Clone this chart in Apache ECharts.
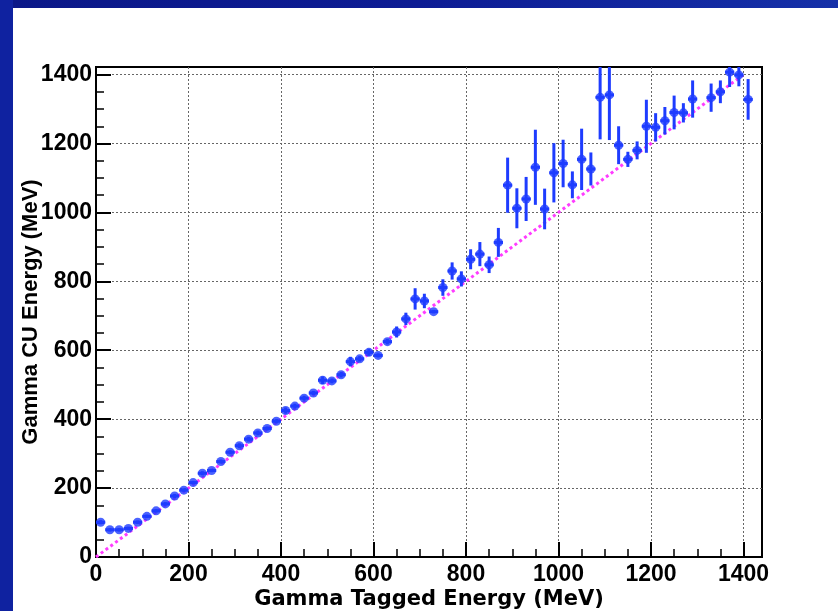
<!DOCTYPE html>
<html>
<head>
<meta charset="utf-8">
<script src="https://cdn.jsdelivr.net/npm/echarts@6/dist/echarts.min.js"></script>
<style>
  html, body { margin: 0; padding: 0; background: #fff; }
  #main { width: 838px; height: 611px; }
</style>
</head>
<body>
<div id="main"></div>
<script>
// bin centres (MeV), 20 MeV bins
var binCenter = [10, 30, 50, 70, 90, 110, 130, 150, 170, 190,
  210, 230, 250, 270, 290, 310, 330, 350, 370, 390,
  410, 430, 450, 470, 490, 510, 530, 550, 570, 590,
  610, 630, 650, 670, 690, 710, 730, 750, 770, 790,
  810, 830, 850, 870, 890, 910, 930, 950, 970, 990,
  1010, 1030, 1050, 1070, 1090, 1110, 1130, 1150, 1170, 1190,
  1210, 1230, 1250, 1270, 1290, 1330, 1350, 1370, 1390, 1410];
// measured CU energy
var cuEnergy = [101, 79, 79, 83, 101, 118, 134, 154, 177, 194,
  216, 243, 251, 277, 304, 323, 342, 360, 373, 394,
  425, 438, 461, 476, 513, 511, 529, 567, 575, 594,
  585, 625, 653, 691, 749, 743, 712, 782, 830, 807,
  864, 879, 848, 913, 1079, 1012, 1039, 1131, 1010, 1115,
  1142, 1080, 1154, 1126, 1334, 1341, 1195, 1154, 1180, 1250,
  1247, 1266, 1290, 1289, 1329, 1333, 1350, 1407, 1399, 1328];
var cuError = [6, 5, 5, 5, 5, 5, 5, 5, 6, 5,
  5, 6, 5, 6, 6, 7, 7, 7, 6, 6,
  9, 7, 7, 6, 11, 7, 8, 14, 8, 10,
  6, 8, 16, 18, 31, 21, 5, 24, 25, 22,
  29, 35, 24, 42, 80, 58, 64, 109, 59, 86,
  69, 39, 89, 48, 122, 131, 55, 22, 26, 77,
  41, 40, 49, 28, 54, 41, 33, 43, 33, 59];
var binHalfWidth = 10;

// y = x reference line
var diagX = [0, 1400];
var diagY = [0, 1400];

var xTickValues = [0, 200, 400, 600, 800, 1000, 1200, 1400];
var yTickValues = [0, 200, 400, 600, 800, 1000, 1200, 1400];

var blue = '#1e3cff';
var labelFont = 'Liberation Sans';

var points = binCenter.map(function (x, i) { return [x, cuEnergy[i], cuError[i]]; });
var diagLine = diagX.map(function (x, i) { return [x, diagY[i]]; });

function renderErr(params, api) {
  var x = api.value(0), y = api.value(1), e = api.value(2);
  var c = api.coord([x, y]);
  var lo = api.coord([x, y - e]);
  var hi = api.coord([x, y + e]);
  var l = api.coord([x - binHalfWidth, y]);
  var r = api.coord([x + binHalfWidth, y]);
  var cs = params.coordSys;
  var top = Math.max(hi[1], cs.y);
  var bot = Math.min(lo[1], cs.y + cs.height);
  return {
    type: 'group',
    children: [
      { type: 'line', shape: { x1: c[0], y1: top, x2: c[0], y2: bot },
        style: { stroke: blue, lineWidth: 3 } },
      { type: 'line', shape: { x1: l[0], y1: c[1], x2: r[0], y2: c[1] },
        style: { stroke: blue, lineWidth: 3 } }
    ]
  };
}

function axisCommon(ticks) {
  return {
    type: 'value',
    min: 0,
    interval: 200,
    axisLine: { show: true, lineStyle: { color: '#000', width: 2 } },
    axisTick: { show: true, inside: true, length: 15, lineStyle: { color: '#000', width: 2 } },
    minorTick: { show: true, splitNumber: 4, length: 8, lineStyle: { color: '#000', width: 1.5 } },
    splitLine: { show: true, showMinLine: false, showMaxLine: false,
      lineStyle: { color: '#666', width: 1, type: [2, 2] } },
    axisLabel: {
      color: '#000', fontFamily: labelFont, fontWeight: 'bold', fontSize: 23,
      showMaxLabel: false,
      formatter: function (v) { return ticks.indexOf(v) >= 0 ? String(v) : ''; }
    },
    nameLocation: 'middle',
    nameMoveOverlap: false,
    nameTextStyle: { color: '#000', fontFamily: labelFont, fontWeight: 'bold', fontSize: 22 }
  };
}

var xAxis = axisCommon(xTickValues);
xAxis.max = 1440;
xAxis.name = 'Gamma Tagged Energy (MeV)';
xAxis.nameGap = 32;
xAxis.nameTextStyle.fontFamily = 'DejaVu Sans';
xAxis.nameTextStyle.fontSize = 21;
xAxis.axisLabel.margin = 6;

var yAxis = axisCommon(yTickValues);
yAxis.max = 1422;
yAxis.name = 'Gamma CU Energy (MeV)';
yAxis.nameGap = 54;
yAxis.axisLabel.margin = 4;

var chart = echarts.init(document.getElementById('main'), null, { renderer: 'canvas' });
chart.setOption({
  animation: false,
  backgroundColor: '#fff',
  graphic: [
    { type: 'rect', left: 0, top: 0, z: -10, silent: true,
      shape: { width: 838, height: 8 },
      style: { fill: new echarts.graphic.LinearGradient(0, 0, 1, 0, [
        { offset: 0, color: '#0b1888' }, { offset: 0.5, color: '#0d1c94' }, { offset: 1, color: '#1530a8' }]) } },
    { type: 'rect', left: 0, top: 0, z: -10, silent: true,
      shape: { width: 13, height: 611 },
      style: { fill: '#0f22a0' } }
  ],
  grid: {
    left: 96, right: 76, top: 67, bottom: 54,
    outerBoundsMode: 'none',
    show: true, borderColor: '#000', borderWidth: 2, backgroundColor: 'transparent'
  },
  xAxis: xAxis,
  yAxis: yAxis,
  series: [
    {
      type: 'line',
      data: diagLine,
      symbol: 'none',
      lineStyle: { color: '#ff3cff', width: 3, type: [3, 3] },
      z: 3
    },
    {
      type: 'custom',
      data: points,
      renderItem: renderErr,
      encode: { x: 0, y: 1 },
      z: 4
    },
    {
      type: 'scatter',
      data: points,
      symbol: 'circle',
      symbolSize: 9,
      itemStyle: { color: blue },
      z: 5
    }
  ]
});
</script>
</body>
</html>
